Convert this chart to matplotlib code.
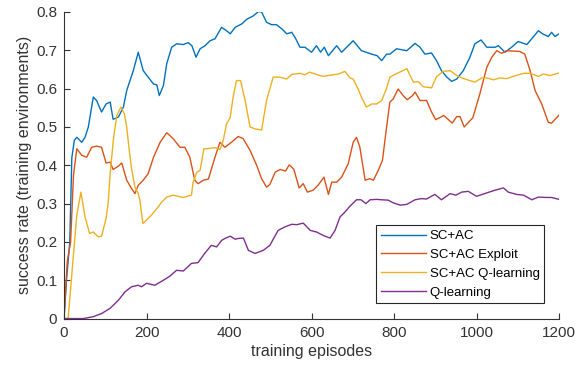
import matplotlib
matplotlib.use('Agg')
import matplotlib.pyplot as plt

plt.rcParams['font.family'] = ['Liberation Sans', 'DejaVu Sans']

# SC+AC
ep_scac = [0, 6, 14, 19, 25, 31, 43, 51, 59, 71, 79, 91, 102, 112, 119, 132, 144, 152, 168, 180,
           192, 204, 217, 225, 231, 241, 249, 261, 273, 289, 301, 310, 320, 330, 342, 354, 366, 382, 394, 403,
           415, 431, 443, 459, 471, 479, 491, 503, 515, 528, 540, 552, 560, 572, 584, 600, 612, 622, 631, 641,
           661, 673, 701, 721, 746, 759, 770, 782, 790, 806, 831, 851, 863, 875, 891, 903, 915, 928, 940, 952,
           968, 984, 996, 1011, 1025, 1045, 1053, 1069, 1085, 1101, 1122, 1150, 1160, 1174, 1182, 1190, 1200]
sr_scac = [0, 0.1, 0.2, 0.42, 0.465, 0.473, 0.46, 0.473, 0.5, 0.578, 0.569, 0.539, 0.56, 0.565, 0.52, 0.526, 0.552, 0.595, 0.647, 0.695,
           0.647, 0.63, 0.612, 0.61, 0.582, 0.608, 0.665, 0.708, 0.717, 0.715, 0.72, 0.712, 0.682, 0.704, 0.712, 0.725, 0.73, 0.76, 0.751, 0.743,
           0.76, 0.769, 0.781, 0.79, 0.801, 0.80, 0.773, 0.767, 0.767, 0.756, 0.743, 0.747, 0.734, 0.708, 0.708, 0.695, 0.712, 0.695, 0.708, 0.686,
           0.712, 0.695, 0.725, 0.699, 0.69, 0.686, 0.673, 0.69, 0.69, 0.704, 0.699, 0.718, 0.708, 0.69, 0.693, 0.673, 0.647, 0.63, 0.619, 0.625,
           0.647, 0.682, 0.717, 0.727, 0.708, 0.708, 0.712, 0.695, 0.708, 0.723, 0.715, 0.751, 0.743, 0.736, 0.747, 0.736, 0.743]

# SC+AC Exploit
ep_exploit = [0, 8, 16, 23, 31, 43, 55, 67, 79, 91, 102, 112, 119, 132, 140, 152, 164, 172, 180, 192,
              204, 217, 233, 249, 265, 281, 293, 305, 317, 325, 338, 350, 366, 378, 390, 406, 422, 434, 451, 467,
              479, 491, 499, 512, 524, 537, 546, 557, 570, 580, 590, 604, 616, 630, 641, 649, 661, 673, 689, 701,
              709, 717, 730, 741, 750, 762, 772, 782, 790, 798, 810, 822, 832, 845, 851, 863, 879, 891, 901, 921,
              941, 952, 960, 970, 991, 1008, 1025, 1037, 1049, 1061, 1073, 1105, 1117, 1130, 1142, 1158, 1174, 1182, 1200]
sr_exploit = [0, 0.15, 0.2, 0.374, 0.443, 0.426, 0.421, 0.447, 0.45, 0.447, 0.406, 0.408, 0.389, 0.398, 0.406, 0.361, 0.339, 0.326, 0.348, 0.361,
              0.378, 0.421, 0.46, 0.485, 0.469, 0.447, 0.447, 0.421, 0.361, 0.352, 0.361, 0.364, 0.421, 0.46, 0.447, 0.46, 0.475, 0.47, 0.439, 0.4,
              0.365, 0.343, 0.35, 0.382, 0.389, 0.385, 0.401, 0.39, 0.341, 0.352, 0.33, 0.335, 0.348, 0.369, 0.324, 0.356, 0.356, 0.369, 0.404, 0.46,
              0.473, 0.448, 0.361, 0.365, 0.361, 0.387, 0.413, 0.5, 0.565, 0.573, 0.599, 0.582, 0.571, 0.582, 0.591, 0.569, 0.569, 0.539, 0.519, 0.53,
              0.51, 0.527, 0.527, 0.5, 0.524, 0.586, 0.656, 0.682, 0.699, 0.692, 0.699, 0.697, 0.69, 0.647, 0.595, 0.56, 0.512, 0.51, 0.531]

# SC+AC Q-learning
ep_scacq = [0, 10, 31, 41, 51, 62, 71, 83, 91, 102, 107, 112, 120, 128, 138, 146, 152, 158, 164, 172,
            180, 184, 191, 200, 212, 225, 237, 249, 265, 289, 309, 313, 322, 330, 339, 346, 366, 378, 386, 394,
            403, 410, 418, 428, 439, 451, 463, 479, 491, 507, 523, 540, 552, 572, 584, 595, 612, 628, 645, 665,
            681, 693, 701, 713, 721, 733, 746, 758, 770, 780, 790, 802, 831, 847, 859, 871, 891, 903, 919, 936,
            952, 972, 996, 1013, 1025, 1041, 1057, 1073, 1089, 1114, 1130, 1150, 1162, 1178, 1200]
sr_scacq = [0, 0, 0.27, 0.33, 0.265, 0.222, 0.226, 0.213, 0.215, 0.261, 0.30, 0.38, 0.47, 0.53, 0.552, 0.535, 0.50, 0.44, 0.39, 0.343,
            0.326, 0.309, 0.248, 0.257, 0.27, 0.287, 0.304, 0.317, 0.322, 0.316, 0.322, 0.356, 0.382, 0.387, 0.443, 0.443, 0.446, 0.441, 0.465, 0.508,
            0.525, 0.578, 0.621, 0.621, 0.569, 0.5, 0.495, 0.492, 0.569, 0.63, 0.63, 0.625, 0.637, 0.64, 0.636, 0.643, 0.637, 0.632, 0.635, 0.638,
            0.645, 0.628, 0.625, 0.599, 0.578, 0.552, 0.56, 0.56, 0.569, 0.595, 0.63, 0.637, 0.652, 0.617, 0.618, 0.605, 0.602, 0.631, 0.645, 0.647,
            0.634, 0.625, 0.617, 0.628, 0.628, 0.623, 0.628, 0.626, 0.632, 0.64, 0.64, 0.632, 0.638, 0.634, 0.641]

# Q-learning
ep_qlearn = [0, 47, 71, 91, 112, 132, 148, 164, 180, 188, 200, 220, 241, 257, 273, 289, 309, 325, 341, 357,
             370, 382, 390, 403, 415, 422, 435, 447, 463, 483, 499, 519, 535, 552, 564, 580, 597, 612, 628, 645,
             657, 669, 681, 693, 709, 720, 732, 742, 758, 770, 786, 798, 815, 831, 851, 866, 879, 899, 915, 936,
             950, 964, 980, 1000, 1025, 1045, 1065, 1077, 1097, 1114, 1134, 1150, 1170, 1182, 1200]
sr_qlearn = [0, 0, 0.005, 0.013, 0.027, 0.048, 0.07, 0.083, 0.087, 0.083, 0.092, 0.087, 0.1, 0.111, 0.126, 0.124, 0.144, 0.146, 0.17, 0.191,
             0.187, 0.204, 0.209, 0.215, 0.207, 0.209, 0.21, 0.178, 0.17, 0.178, 0.191, 0.23, 0.239, 0.246, 0.245, 0.249, 0.23, 0.226, 0.217, 0.21,
             0.23, 0.265, 0.278, 0.293, 0.31, 0.31, 0.3, 0.31, 0.311, 0.31, 0.309, 0.302, 0.296, 0.298, 0.31, 0.313, 0.312, 0.324, 0.31, 0.326,
             0.322, 0.33, 0.332, 0.319, 0.328, 0.335, 0.341, 0.33, 0.324, 0.322, 0.31, 0.317, 0.316, 0.316, 0.311]

labels = ['SC+AC', 'SC+AC Exploit', 'SC+AC Q-learning', 'Q-learning']
# colori di default di MATLAB
colors = ['#0072BD', '#D95319', '#EDB120', '#7E2F8E']

x_ticks = [0, 200, 400, 600, 800, 1000, 1200]
y_ticks = [0, 0.1, 0.2, 0.3, 0.4, 0.5, 0.6, 0.7, 0.8]

fig = plt.figure(figsize=(5.85, 3.70), dpi=100)
ax = fig.add_axes([0.1094, 0.139, 0.8462, 0.8286])

series = [(ep_scac, sr_scac), (ep_exploit, sr_exploit), (ep_scacq, sr_scacq), (ep_qlearn, sr_qlearn)]
for (xs, ys), lab, col in zip(series, labels, colors):
    ax.plot(xs, ys, color=col, lw=1.0, label=lab)

ax.set_xlim(0, 1200)
ax.set_ylim(0, 0.8)
ax.set_xticks(x_ticks)
ax.set_yticks(y_ticks)
ax.set_yticklabels(['0' if v == 0 else f'{v:g}' for v in y_ticks])

grey = '#333333'
for side in ['top', 'right']:
    ax.spines[side].set_visible(False)
for side in ['left', 'bottom']:
    ax.spines[side].set_color(grey)
    ax.spines[side].set_linewidth(0.8)
ax.tick_params(direction='in', length=4, width=0.8, colors=grey, labelsize=11, pad=5)

ax.set_xlabel('training episodes', fontsize=11.5, color=grey, labelpad=3)
ax.set_ylabel('success rate (training environments)', fontsize=11.5, color=grey, labelpad=3)

leg = ax.legend(loc='lower right', bbox_to_anchor=(0.97, 0.05), borderaxespad=0,
                fontsize=9.5, handlelength=3.4, handletextpad=0.3, labelspacing=0.5,
                borderpad=0.35, fancybox=False, framealpha=1)
leg.get_frame().set_edgecolor('#262626')
leg.get_frame().set_linewidth(0.8)

plt.savefig('out.png', dpi=100)
plt.close()
